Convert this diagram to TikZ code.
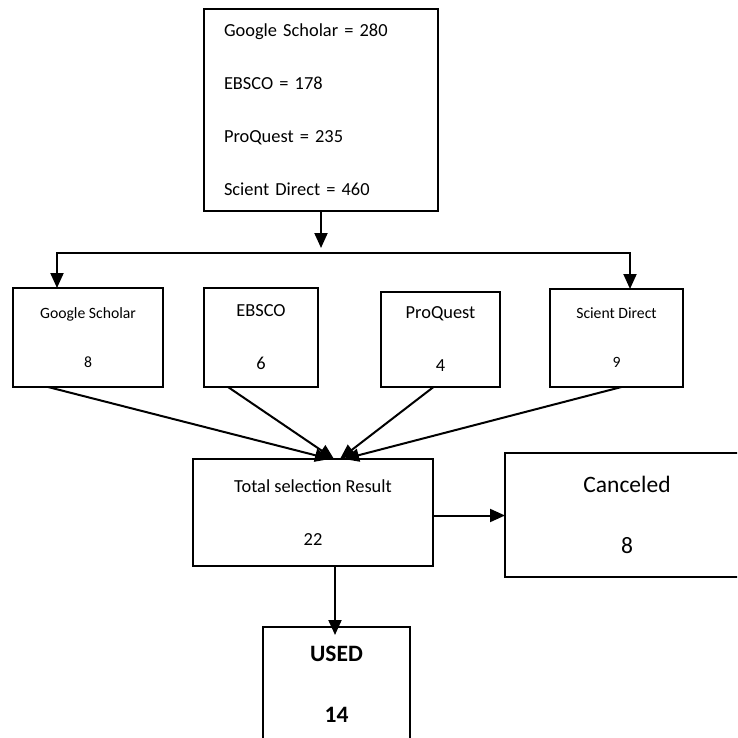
\documentclass[tikz,border=0pt]{standalone}
\usepackage{fontspec}
\setmainfont{Carlito}
\usepackage{tikz}
\usetikzlibrary{arrows.meta,calc,positioning}
\tikzstyle{block}=[
  draw=black,
  line width=1.5pt,
  rectangle,
  inner sep=0pt,
  outer sep=0pt,
  align=center,
]
\tikzstyle{smalltext}=[font=\fontsize{15.7}{49}\selectfont]
\tikzstyle{midtext}=[font=\fontsize{18.4}{53}\selectfont]
\tikzstyle{bigtext}=[font=\fontsize{23.5}{61}\selectfont]
\tikzstyle{arrow}=[
  draw=black,
  line width=2pt,
]
\tikzset{
  >={Triangle[length=15pt,width=13pt]},
}
\begin{document}
\begin{tikzpicture}[x=1pt,y=-1pt]
  \useasboundingbox (0,0) rectangle (737,738);
  \clip (0,0) rectangle (737,738);
  %%
  \node (sources) [block, midtext, minimum width=234pt, minimum height=202pt,
    text width=194pt, align=left] at (321,110)
    {Google Scholar = 280\\EBSCO = 178\\ProQuest = 235\\Scient Direct = 460};
  \coordinate [below=37pt of sources.south] (split);
  %%
  \node (scholar) [block, smalltext, minimum width=150pt, minimum height=99pt] at (88,337.5) {Google Scholar\\8};
  \node (ebsco) [block, midtext, minimum width=114pt, minimum height=99pt] at (261,337.5) {EBSCO\\6};
  \node (proquest) [block, midtext, minimum width=119pt, minimum height=95pt] at (440.5,339.5) {ProQuest\\4};
  \node (direct) [block, smalltext, minimum width=133pt, minimum height=98pt] at (616.5,338) {Scient Direct\\9};
  \coordinate (splitL) at (57,253);
  \coordinate (splitR) at (630,253);
  %%
  \node (total) [block, midtext, minimum width=240pt, minimum height=107pt] at (313,512.5) {Total selection Result\\22};
  \node (canceled) [block, bigtext, minimum width=244pt, minimum height=124pt] at (627,515) {Canceled\\8};
  \node (used) [block, bigtext, minimum width=147pt, minimum height=115pt] at (336.5,684.5) {\bfseries USED\\\bfseries 14};
  %%
  \draw [->, arrow] (sources.south) -- (split);
  \draw [<->, arrow] (splitL |- scholar.north) -- (splitL) -- (splitR) -- (splitR |- direct.north);
  \draw [->, arrow] ([xshift=-40pt]scholar.south) -- ([xshift=17pt]total.north);
  \draw [->, arrow] ([xshift=-33pt]ebsco.south) -- ([xshift=21pt]total.north);
  \draw [->, arrow] ([xshift=-7pt]proquest.south) -- ([xshift=27pt]total.north);
  \draw [->, arrow] ([xshift=5pt]direct.south) -- ([xshift=31pt]total.north);
  \draw [->, arrow] ([yshift=-3pt]total.east) -- ([yshift=-3pt]total.east -| canceled.west);
  \draw [->, arrow] ([xshift=22pt]total.south) -- ([xshift=22pt,yshift=-8pt]total.south |- used.north);
\end{tikzpicture}
\end{document}
